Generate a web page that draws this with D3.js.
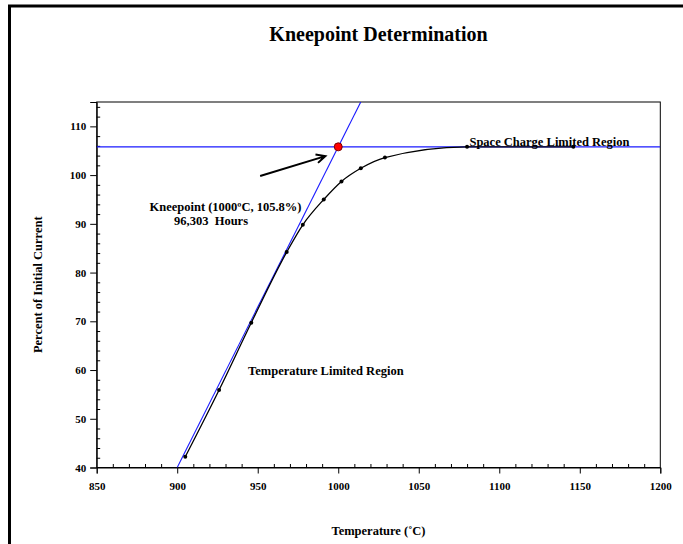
<!DOCTYPE html>
<html>
<head>
<meta charset="utf-8">
<script src="https://cdn.jsdelivr.net/npm/d3@7"></script>
<style>
  html, body { margin: 0; padding: 0; background: #fff; }
  svg { display: block; }
  text { font-family: "Liberation Serif", "Times New Roman", serif; font-weight: bold; fill: #000; }
</style>
</head>
<body>
<svg id="chart" width="683" height="544"></svg>
<script>
// Life-test measurements: cathode current vs. operating temperature
const temperatures = [905, 926, 946, 968, 978, 991, 1002, 1014, 1029, 1080, 1146];
const percentCurrent = [42.2, 55.9, 69.7, 84.2, 89.8, 95.0, 98.7, 101.4, 103.6, 105.8, 105.8];

// Kneepoint construction
const kneepoint = { temp: 1000, pct: 105.8 };
const tangentBase = { temp: 900, pct: 40 };
const arrowFrom = { temp: 951.5, pct: 99.8 };
const arrowTo = { temp: 992, pct: 103.9 };

// Axis ticks
const xMajorTicks = [850, 900, 950, 1000, 1050, 1100, 1150, 1200];
const yMajorTicks = [40, 50, 60, 70, 80, 90, 100, 110];
const xDomain = [850, 1200];
const yDomain = [40, 115];

// Annotations
const annotations = [
  { text: "Kneepoint (1000ºC, 105.8%)", temp: 930, pct: 92.6, anchor: "middle" },
  { text: "96,303\u00a0\u00a0Hours", temp: 921, pct: 89.8, anchor: "middle" },
  { text: "Temperature Limited Region", temp: 944, pct: 59.0, anchor: "start" },
  { text: "Space Charge Limited Region", temp: 1081.5, pct: 106.0, anchor: "start" }
];

const svg = d3.select("#chart");
const W = 683, H = 544;
const plot = { left: 96.7, right: 660.3, top: 102, bottom: 467.5 };

svg.append("rect").attr("width", W).attr("height", H).attr("fill", "#fff");

// outer frame
svg.append("rect")
  .attr("x", 9.5).attr("y", 6).attr("width", 720).attr("height", 600)
  .attr("fill", "none").attr("stroke", "#000").attr("stroke-width", 3);

const x = d3.scaleLinear().domain(xDomain).range([plot.left, plot.right]);
const y = d3.scaleLinear().domain(yDomain).range([plot.bottom, plot.top]);

// title
svg.append("text")
  .attr("x", (plot.left + plot.right) / 2).attr("y", 41)
  .attr("text-anchor", "middle").style("font-size", "20px")
  .text("Kneepoint Determination");

// plot box
svg.append("rect")
  .attr("x", plot.left).attr("y", plot.top)
  .attr("width", plot.right - plot.left).attr("height", plot.bottom - plot.top)
  .attr("fill", "none").attr("stroke", "#000").attr("stroke-width", 1);

// x axis: major ticks outward, minor ticks inward
const xMinor = d3.range(xDomain[0], xDomain[1] + 1, 10).filter(v => !xMajorTicks.includes(v));
svg.append("g").attr("transform", `translate(0,${plot.bottom})`)
  .call(d3.axisBottom(x).tickValues(xMinor).tickSize(-3.5).tickFormat(""))
  .call(g => g.select(".domain").remove());
const xAxis = svg.append("g").attr("transform", `translate(0,${plot.bottom})`)
  .call(d3.axisBottom(x).tickValues(xMajorTicks).tickSize(6).tickPadding(9).tickFormat(d3.format("d")));
xAxis.select(".domain").attr("stroke-width", 1);
xAxis.selectAll("text").style("font-size", "11px").style("font-family", null);

// y axis
const yMinor = d3.range(yDomain[0], yDomain[1] + 0.1, 2).filter(v => !yMajorTicks.includes(v));
svg.append("g").attr("transform", `translate(${plot.left},0)`)
  .call(d3.axisLeft(y).tickValues(yMinor).tickSize(-3.5).tickFormat(""))
  .call(g => g.select(".domain").remove());
const yAxis = svg.append("g").attr("transform", `translate(${plot.left},0)`)
  .call(d3.axisLeft(y).tickValues(yMajorTicks).tickSize(6.5).tickPadding(4).tickFormat(d3.format("d")));
yAxis.selectAll("text").style("font-size", "11px").style("font-family", null);

svg.selectAll(".tick line").attr("stroke", "#000");
svg.selectAll(".domain").attr("stroke", "#000");

// axis titles
svg.append("text")
  .attr("x", (plot.left + plot.right) / 2).attr("y", 535)
  .attr("text-anchor", "middle").style("font-size", "12.5px")
  .text("Temperature (˚C)");
svg.append("text")
  .attr("transform", `translate(42,${(plot.top + plot.bottom) / 2}) rotate(-90)`)
  .attr("text-anchor", "middle").style("font-size", "12.5px")
  .text("Percent of Initial Current");

// clip region for reference lines
svg.append("clipPath").attr("id", "plotClip")
  .append("rect").attr("x", plot.left).attr("y", plot.top)
  .attr("width", plot.right - plot.left).attr("height", plot.bottom - plot.top);
const inner = svg.append("g").attr("clip-path", "url(#plotClip)");

// horizontal saturation line through the kneepoint
inner.append("line")
  .attr("x1", x(xDomain[0])).attr("x2", x(xDomain[1]))
  .attr("y1", y(kneepoint.pct)).attr("y2", y(kneepoint.pct))
  .attr("stroke", "#1a1aff").attr("stroke-width", 1.1);

// tangent of the temperature-limited region, extended to the top of the plot
const slope = (kneepoint.pct - tangentBase.pct) / (kneepoint.temp - tangentBase.temp);
const tangentTopTemp = tangentBase.temp + (yDomain[1] - tangentBase.pct) / slope;
inner.append("line")
  .attr("x1", x(tangentBase.temp)).attr("y1", y(tangentBase.pct))
  .attr("x2", x(tangentTopTemp)).attr("y2", y(yDomain[1]))
  .attr("stroke", "#1a1aff").attr("stroke-width", 1.1);

// measured curve
const pts = temperatures.map((t, i) => [t, percentCurrent[i]]);
const line = d3.line().x(d => x(d[0])).y(d => y(d[1])).curve(d3.curveMonotoneX);
inner.append("path").datum(pts)
  .attr("d", line).attr("fill", "none")
  .attr("stroke", "#000").attr("stroke-width", 1.3);
inner.selectAll("circle.pt").data(pts).join("circle")
  .attr("class", "pt")
  .attr("cx", d => x(d[0])).attr("cy", d => y(d[1])).attr("r", 2)
  .attr("fill", "#000");

// annotations
annotations.forEach(a => {
  svg.append("text")
    .attr("x", x(a.temp)).attr("y", y(a.pct))
    .attr("text-anchor", a.anchor).style("font-size", "12.5px")
    .text(a.text);
});

// kneepoint marker
svg.append("circle")
  .attr("cx", x(kneepoint.temp)).attr("cy", y(kneepoint.pct)).attr("r", 4)
  .attr("fill", "#ff0000").attr("stroke", "#7a0000").attr("stroke-width", 1);

// arrow toward the kneepoint
const ax1 = x(arrowFrom.temp), ay1 = y(arrowFrom.pct);
const ax2 = x(arrowTo.temp), ay2 = y(arrowTo.pct);
const ang = Math.atan2(ay2 - ay1, ax2 - ax1);
const headLen = 10, headAng = 0.45;
svg.append("path")
  .attr("d", `M${ax1},${ay1}L${ax2},${ay2}` +
    `M${ax2 - headLen * Math.cos(ang - headAng)},${ay2 - headLen * Math.sin(ang - headAng)}` +
    `L${ax2},${ay2}` +
    `L${ax2 - headLen * Math.cos(ang + headAng)},${ay2 - headLen * Math.sin(ang + headAng)}`)
  .attr("fill", "none").attr("stroke", "#000").attr("stroke-width", 2)
  .attr("stroke-linejoin", "miter");
</script>
</body>
</html>
